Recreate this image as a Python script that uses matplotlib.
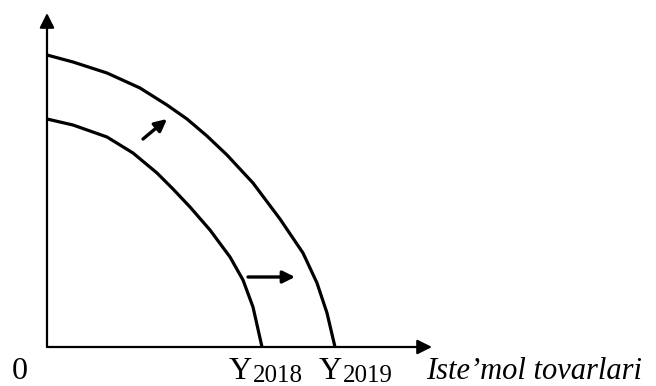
import numpy as np
import matplotlib
matplotlib.use("Agg")
import matplotlib.pyplot as plt

# iste'mol tovarlari (x) va kapital tovarlar (y), boshlanish nuqtasiga nisbatan
chegara_2018_x = [0, 26, 60, 86, 110, 126, 143, 163, 183, 196, 206, 215]
chegara_2018_y = [228, 222, 210, 194, 174, 158, 140, 117, 90, 67, 40, 0]

chegara_2019_x = [0, 26, 60, 93, 120, 140, 160, 180, 206, 233, 256, 270, 280, 288]
chegara_2019_y = [292, 285, 274, 259, 242, 228, 211, 192, 164, 128, 94, 64, 34, 0]

# siljish strelkalari: (boshi, oxiri)
strelka_yuqori = [(96, 208), (120, 228)]
strelka_ong = [(201, 70), (248, 70)]

o_qi_x_max = 385
o_qi_y_max = 334

belgi_2018 = "2018"
belgi_2019 = "2019"
x_nomi = "Iste\u2019mol tovarlari"

fig = plt.figure(figsize=(6.56, 3.86), dpi=100)
ax = fig.add_axes([0, 0, 1, 1])
ax.set_xlim(-47, 609)
ax.set_ylim(-39, 347)
ax.axis("off")

# o'qlar
ax.annotate("", xy=(o_qi_x_max, 0), xytext=(0, 0),
            arrowprops=dict(arrowstyle="-|>", color="black", lw=1.6,
                            mutation_scale=22, shrinkA=0, shrinkB=0))
ax.annotate("", xy=(0, o_qi_y_max), xytext=(0, 0),
            arrowprops=dict(arrowstyle="-|>", color="black", lw=1.6,
                            mutation_scale=22, shrinkA=0, shrinkB=0))

# ishlab chiqarish imkoniyatlari chegaralari
ax.plot(chegara_2018_x, chegara_2018_y, color="black", lw=2.3,
        solid_joinstyle="round", solid_capstyle="butt")
ax.plot(chegara_2019_x, chegara_2019_y, color="black", lw=2.3,
        solid_joinstyle="round", solid_capstyle="butt")

for boshi, oxiri in [strelka_yuqori, strelka_ong]:
    ax.annotate("", xy=oxiri, xytext=boshi,
                arrowprops=dict(arrowstyle="-|>", color="black", lw=2.4,
                                mutation_scale=18, shrinkA=0, shrinkB=0))

shrift = "Liberation Serif"
ax.text(-27, -32, "0", fontsize=23, family=shrift, ha="center", va="baseline")

ax.text(chegara_2018_x[-1] - 33, -32, "Y", fontsize=23, family=shrift,
        ha="left", va="baseline")
ax.text(chegara_2018_x[-1] - 9, -35, belgi_2018, fontsize=18, family=shrift,
        ha="left", va="baseline")

ax.text(chegara_2019_x[-1] - 16, -32, "Y", fontsize=23, family=shrift,
        ha="left", va="baseline")
ax.text(chegara_2019_x[-1] + 8, -35, belgi_2019, fontsize=18, family=shrift,
        ha="left", va="baseline")

ax.text(379, -32, x_nomi, fontsize=22, family=shrift, style="italic",
        ha="left", va="baseline")

fig.savefig("out.png", dpi=100)
plt.close(fig)
